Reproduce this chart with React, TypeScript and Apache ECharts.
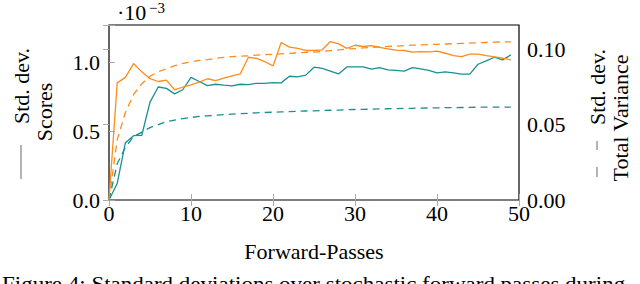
import React, { useEffect, useRef } from 'react';
import * as echarts from 'echarts';

const passes = [0,1,2,3,4,5,6,7,8,9,10,11,12,13,14,15,16,17,18,19,20,21,22,23,24,25,26,27,28,29,30,31,32,33,34,35,36,37,38,39,40,41,42,43,44,45,46,47,48,49];

// Std. dev. of scores (×10^-3), left axis
const scoresOrange = [0,0.85,0.89,0.99,0.93,0.88,0.86,0.87,0.80,0.82,0.835,0.855,0.88,0.867,0.884,0.90,0.915,1.036,1.027,1.005,0.973,1.143,1.109,1.10,1.085,1.085,1.09,1.15,1.133,1.10,1.123,1.114,1.121,1.107,1.097,1.087,1.085,1.073,1.077,1.075,1.08,1.065,1.048,1.041,1.058,1.058,1.048,1.039,1.029,1.017];
const scoresTeal = [0,0.12,0.416,0.467,0.47,0.71,0.82,0.81,0.77,0.80,0.89,0.86,0.83,0.84,0.833,0.828,0.84,0.838,0.847,0.847,0.852,0.85,0.898,0.893,0.906,0.964,0.955,0.935,0.915,0.966,0.966,0.966,0.95,0.96,0.944,0.94,0.935,0.96,0.951,0.94,0.922,0.93,0.922,0.913,0.913,0.985,1.01,1.036,1.017,1.053];

// Std. dev. of total variance, right axis
const varianceOrange = [0,0.04,0.058,0.07,0.077,0.082,0.085,0.087,0.089,0.0905,0.0915,0.0925,0.093,0.094,0.0945,0.095,0.0953,0.0956,0.096,0.0963,0.0966,0.0969,0.0972,0.0975,0.0978,0.098,0.0985,0.099,0.0995,0.1,0.1004,0.1008,0.1012,0.1015,0.1018,0.102,0.1023,0.1026,0.1028,0.103,0.1032,0.1034,0.1036,0.1038,0.104,0.1042,0.1044,0.1046,0.1048,0.1048];
const varianceTeal = [0,0.024,0.035,0.042,0.045,0.048,0.050,0.052,0.053,0.054,0.0547,0.0554,0.0558,0.0562,0.0566,0.0569,0.0572,0.0575,0.0578,0.058,0.0582,0.0584,0.0586,0.0588,0.059,0.0591,0.0593,0.0595,0.0596,0.0598,0.06,0.0601,0.0602,0.0604,0.0605,0.0606,0.0607,0.0608,0.0609,0.061,0.0611,0.0612,0.0612,0.0613,0.0614,0.0615,0.0615,0.0616,0.0616,0.0616];

const xTicks = [0,10,20,30,40,50];
const leftTicks = [0,0.5,1.0];
const rightTicks = [0,0.05,0.10];

const ORANGE = '#ff8c1a';
const TEAL = '#1a9090';
const FONT = "'Liberation Serif', 'DejaVu Serif', serif";
const FS = 22;

export default function App() {
  const ref = useRef<HTMLDivElement>(null);
  useEffect(() => {
    document.body.style.margin = '0';
    const chart = echarts.init(ref.current!, null, { renderer: 'svg' });
    const pair = (ys: number[]) => passes.map((x, i) => [x, ys[i]]);
    const near = (v: number, arr: number[]) => arr.some(t => Math.abs(t - v) < 1e-9);
    chart.setOption({
      animation: false,
      textStyle: { fontFamily: FONT },
      grid: { left: 109, right: 121, top: 25, bottom: 84, show: true, borderColor: '#000', borderWidth: 1.2, backgroundColor: 'transparent' },
      xAxis: [{
        type: 'value', min: 0, max: 50, interval: 10,
        axisLine: { show: false },
        axisTick: { show: true, inside: true, length: 6, lineStyle: { color: '#aaa' } },
        splitLine: { show: false },
        axisLabel: { fontSize: FS, fontFamily: FONT, color: '#000', margin: 2,
          formatter: (v: number) => near(v, xTicks) ? String(v) : '' },
      }, {
        type: 'value', position: 'top', min: 0, max: 50, interval: 10,
        axisLine: { show: false },
        axisTick: { show: true, inside: true, length: 6, lineStyle: { color: '#aaa' } },
        splitLine: { show: false }, axisLabel: { show: false },
      }],
      yAxis: [{
        type: 'value', min: 0, max: 1.27, interval: 0.5,
        axisLine: { show: false },
        axisTick: { show: true, inside: true, length: 6, lineStyle: { color: '#aaa' } },
        splitLine: { show: false },
        axisLabel: { fontSize: FS, fontFamily: FONT, color: '#000', margin: 9,
          formatter: (v: number) => near(v, leftTicks) ? v.toFixed(1) : '' },
      }, {
        type: 'value', position: 'right', min: 0, max: 0.116, interval: 0.05,
        axisLine: { show: false },
        axisTick: { show: true, inside: true, length: 6, lineStyle: { color: '#aaa' } },
        splitLine: { show: false },
        axisLabel: { fontSize: FS, fontFamily: FONT, color: '#000', margin: 8,
          formatter: (v: number) => near(v, rightTicks) ? v.toFixed(2) : '' },
      }],
      series: [
        { type: 'line', yAxisIndex: 1, data: pair(varianceOrange), showSymbol: false, lineStyle: { color: ORANGE, width: 1.3, type: [7, 5] } },
        { type: 'line', yAxisIndex: 1, data: pair(varianceTeal), showSymbol: false, lineStyle: { color: TEAL, width: 1.3, type: [7, 5] } },
        { type: 'line', yAxisIndex: 0, data: pair(scoresTeal), showSymbol: false, lineStyle: { color: TEAL, width: 1.3 } },
        { type: 'line', yAxisIndex: 0, data: pair(scoresOrange), showSymbol: false, lineStyle: { color: ORANGE, width: 1.3 } },
      ],
      graphic: [
        { type: 'text', x: 117, y: 1, style: { text: '·10', font: `${FS}px ${FONT}`, fill: '#000' } },
        { type: 'text', x: 149, y: 0, style: { text: '−3', font: `15px ${FONT}`, fill: '#000' } },
        { type: 'text', x: 21, y: 86, rotation: Math.PI / 2, style: { text: 'Std. dev.', font: `${FS}px ${FONT}`, fill: '#000', textAlign: 'center', textVerticalAlign: 'middle' } },
        { type: 'line', shape: { x1: 21, y1: 145, x2: 21, y2: 179 }, style: { stroke: '#666', lineWidth: 1 } },
        { type: 'text', x: 44, y: 112, rotation: Math.PI / 2, style: { text: 'Scores', font: `${FS}px ${FONT}`, fill: '#000', textAlign: 'center', textVerticalAlign: 'middle' } },
        { type: 'text', x: 597, y: 87, rotation: Math.PI / 2, style: { text: 'Std. dev.', font: `${FS}px ${FONT}`, fill: '#000', textAlign: 'center', textVerticalAlign: 'middle' } },
        { type: 'line', shape: { x1: 597, y1: 141, x2: 597, y2: 150 }, style: { stroke: '#666', lineWidth: 1 } },
        { type: 'line', shape: { x1: 597, y1: 167, x2: 597, y2: 177 }, style: { stroke: '#666', lineWidth: 1 } },
        { type: 'text', x: 620, y: 118, rotation: Math.PI / 2, style: { text: 'Total Variance', font: `${FS}px ${FONT}`, fill: '#000', textAlign: 'center', textVerticalAlign: 'middle' } },
        { type: 'text', x: 314, y: 251, style: { text: 'Forward-Passes', font: `${FS}px ${FONT}`, fill: '#000', textAlign: 'center', textVerticalAlign: 'middle' } },
        { type: 'text', x: 2, y: 273, scaleX: 1.045, style: { text: 'Figure 4: Standard deviations over stochastic forward passes during', font: `${FS}px ${FONT}`, fill: '#000', textAlign: 'left', textVerticalAlign: 'top' } },
      ],
    });
    return () => chart.dispose();
  }, []);
  return <div ref={ref} style={{ width: 640, height: 284, overflow: 'hidden' }} />;
}
